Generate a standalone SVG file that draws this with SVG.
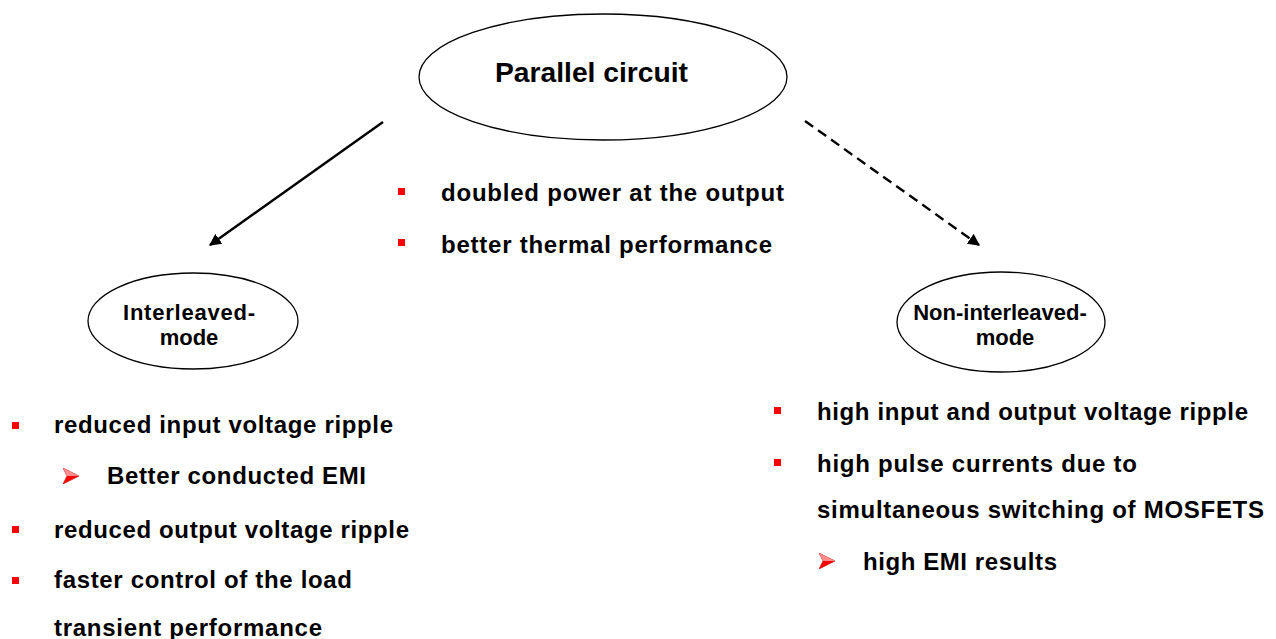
<svg xmlns="http://www.w3.org/2000/svg" width="1276" height="639" viewBox="0 0 1276 639">
<defs>
<style>
.node{fill:#fff;stroke:#000;stroke-width:1.3}
.t{font-family:"Liberation Sans",Arial,sans-serif;font-weight:bold;fill:#000}
.b{fill:#ff0000}
.conn{stroke:#000;stroke-width:2.4;fill:none}
</style>
<marker id="ah" viewBox="0 0 10 10" refX="9" refY="5" markerWidth="5" markerHeight="5" orient="auto" markerUnits="strokeWidth">
<path d="M0,0 L10,5 L0,10 z" fill="#000"/>
</marker>
<symbol id="arr" viewBox="0 0 16 16">
<path d="M0,0 L16,8 L0,16 L4,8 z" fill="#ff0000" stroke="#c00000" stroke-width="0.6"/>
<path d="M0,0 L16,8 L4,8 z" fill="#ffffff" fill-opacity="0.55"/>
</symbol>
</defs>
<rect width="1276" height="639" fill="#fff"/>
<g id="connectors">
<line class="conn" x1="383" y1="122" x2="210" y2="245" marker-end="url(#ah)"/>
<line class="conn" x1="805" y1="121" x2="979" y2="245" stroke-dasharray="10,6" marker-end="url(#ah)"/>
</g>
<g id="parallel">
<ellipse class="node" cx="603" cy="77" rx="184" ry="63"/>
<text class="t" x="495" y="82" font-size="28" textLength="193" lengthAdjust="spacingAndGlyphs">Parallel circuit</text>
</g>
<g id="interleaved">
<ellipse class="node" cx="193" cy="321" rx="105" ry="48"/>
<text class="t" x="189" y="320" font-size="22" text-anchor="middle" textLength="132" lengthAdjust="spacing">Interleaved-</text>
<text class="t" x="189" y="345" font-size="22" text-anchor="middle">mode</text>
</g>
<g id="noninterleaved">
<ellipse class="node" cx="1001" cy="322" rx="104" ry="50"/>
<text class="t" x="1000" y="320" font-size="22" text-anchor="middle">Non-interleaved-</text>
<text class="t" x="1005" y="345" font-size="22" text-anchor="middle">mode</text>
</g>
<g id="common-list">
<rect class="b" x="398" y="188" width="7" height="7"/>
<text class="t" x="441" y="201" font-size="24" textLength="343" lengthAdjust="spacing">doubled power at the output</text>
<rect class="b" x="398" y="239" width="7" height="7"/>
<text class="t" x="441" y="253" font-size="24" textLength="331" lengthAdjust="spacing">better thermal performance</text>
</g>
<g id="interleaved-list">
<rect class="b" x="12" y="422" width="7" height="7"/>
<text class="t" x="54" y="433" font-size="24" textLength="339" lengthAdjust="spacing">reduced input voltage ripple</text>
<use href="#arr" x="63" y="468" width="16" height="16"/>
<text class="t" x="107" y="484" font-size="24" textLength="259" lengthAdjust="spacing">Better conducted EMI</text>
<rect class="b" x="12" y="526" width="7" height="7"/>
<text class="t" x="54" y="538" font-size="24" textLength="355" lengthAdjust="spacing">reduced output voltage ripple</text>
<rect class="b" x="12" y="577" width="7" height="7"/>
<text class="t" x="54" y="588" font-size="24" textLength="298" lengthAdjust="spacing">faster control of the load</text>
<text class="t" x="54" y="636" font-size="24" textLength="268" lengthAdjust="spacing">transient performance</text>
</g>
<g id="noninterleaved-list">
<rect class="b" x="774" y="407" width="7" height="7"/>
<text class="t" x="817" y="420" font-size="24" textLength="431" lengthAdjust="spacing">high input and output voltage ripple</text>
<rect class="b" x="774" y="459" width="7" height="7"/>
<text class="t" x="817" y="472" font-size="24" textLength="320" lengthAdjust="spacing">high pulse currents due to</text>
<text class="t" x="817" y="518" font-size="24" textLength="447" lengthAdjust="spacing">simultaneous switching of MOSFETS</text>
<use href="#arr" x="819" y="553" width="16" height="16"/>
<text class="t" x="863" y="570" font-size="24" textLength="194" lengthAdjust="spacing">high EMI results</text>
</g>
</svg>
